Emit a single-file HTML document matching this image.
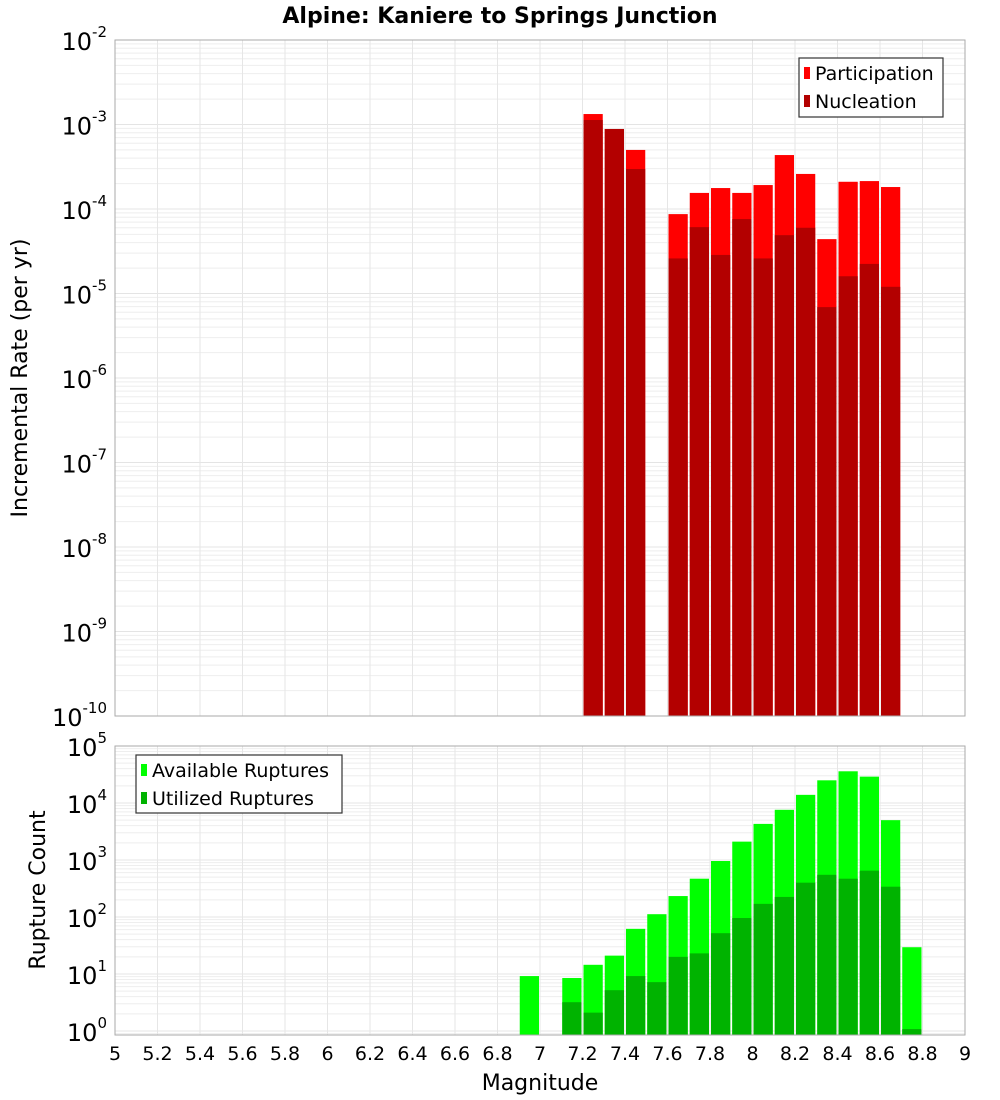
<!DOCTYPE html>
<html><head><meta charset="utf-8">
<style>
html,body{margin:0;padding:0;background:#fff;}
svg{display:block;font-family:"DejaVu Sans","Liberation Sans",sans-serif;}
</style></head>
<body>
<svg id="chart" width="1000" height="1100" viewBox="0 0 1000 1100" xmlns="http://www.w3.org/2000/svg">
<text x="500" y="23" text-anchor="middle" font-size="22" font-weight="bold">Alpine: Kaniere to Springs Junction</text>
<g id="topPanel"></g>
<g id="botPanel"></g>
<text transform="translate(27,378) rotate(-90)" text-anchor="middle" font-size="22">Incremental Rate (per yr)</text>
<text transform="translate(45,890) rotate(-90)" text-anchor="middle" font-size="22">Rupture Count</text>
<text x="540" y="1090" text-anchor="middle" font-size="22">Magnitude</text>
</svg>
<script>
const magBins = [6.95,7.15,7.25,7.35,7.45,7.55,7.65,7.75,7.85,7.95,8.05,8.15,8.25,8.35,8.45,8.55,8.65,8.75];
const participation = [0,0,1.33e-3,8.85e-4,5.0e-4,0,8.7e-5,1.55e-4,1.77e-4,1.55e-4,1.92e-4,4.35e-4,2.6e-4,4.4e-5,2.1e-4,2.14e-4,1.82e-4,0];
const nucleation = [0,0,1.13e-3,8.85e-4,2.97e-4,0,2.6e-5,6.1e-5,2.86e-5,7.6e-5,2.6e-5,4.9e-5,6.0e-5,6.9e-6,1.6e-5,2.24e-5,1.2e-5,0];
const available = [9.2,8.5,14.5,21,62,112,233,470,960,2100,4300,7600,13900,25000,36000,29000,5000,29.5];
const utilized = [0,3.2,2.1,5.2,9.2,7.2,20,23,52,96,170,225,400,550,470,650,340,1.08];
const xTicks = [5,5.2,5.4,5.6,5.8,6,6.2,6.4,6.6,6.8,7,7.2,7.4,7.6,7.8,8,8.2,8.4,8.6,8.8,9];
const topExps = [-2,-3,-4,-5,-6,-7,-8,-9,-10];
const botExps = [5,4,3,2,1,0];

const NS="http://www.w3.org/2000/svg";
const X0=115,X1=965;
function xs(m){return X0+(m-5)/4*(X1-X0);}
const T0=40,T1=716;
function yt(v){return T0+(-2-Math.log10(v))*84.5;}
const B0=746,B1=1035;
function yb(v){return Math.min(B1,B0+(5-Math.log10(v))*57);}
function mk(tag,attrs,parent,txt){const e=document.createElementNS(NS,tag);for(const k in attrs)e.setAttribute(k,attrs[k]);if(txt!==undefined)e.textContent=txt;parent.appendChild(e);return e;}

function panel(g,yTop,yBot,yf,exps,lo,hi){
  for(let d=lo;d<hi;d++){for(let k=1;k<10;k++){const v=k*Math.pow(10,d);const y=yf(v);if(y<yTop||y>yBot)continue;
    const l=mk('line',{x1:X0,x2:X1,y1:y,y2:y,stroke:k==1?'#e4e4e4':'#eeeeee','stroke-width':1},g);
    
    }}
  for(const t of xTicks){const x=xs(t);
    const l=mk('line',{x1:x,x2:x,y1:yTop,y2:yBot,stroke:'#e6e6e6','stroke-width':1},g);
    
    }
  for(const e of exps){const y=yf(Math.pow(10,e));
    const t=mk('text',{x:107,y:y+10,'text-anchor':'end','font-size':24},g);
    
    
    mk('tspan',{},t,'10');
    mk('tspan',{dy:-13,'font-size':15},t,String(e));}
}
const gTop=document.getElementById('topPanel'),gBot=document.getElementById('botPanel');
panel(gTop,T0,T1,yt,topExps,-10,-2);
panel(gBot,B0,B1,yb,botExps,-1,5);

magBins.forEach((m,i)=>{
  const xl=xs(m-0.05)+1,w=xs(m+0.05)-xs(m-0.05)-2;
  if(participation[i]>0){const y=yt(participation[i]);
    const r=mk('rect',{x:xl,y:y,width:w,height:T1-y,fill:'#ff0000'},gTop);
    
    }
  if(nucleation[i]>0){const y=yt(nucleation[i]);
    const r=mk('rect',{x:xl,y:y,width:w,height:T1-y,fill:'#b30000'},gTop);
    
    }
  if(available[i]>0){const y=yb(available[i]);
    const r=mk('rect',{x:xl,y:y,width:w,height:B1-y,fill:'#00ff00'},gBot);
    
    }
  if(utilized[i]>0){const y=yb(utilized[i]);
    const r=mk('rect',{x:xl,y:y,width:w,height:B1-y,fill:'#00b300'},gBot);
    
    }
});
let fr=mk('rect',{x:X0,y:T0,width:X1-X0,height:T1-T0,fill:'none',stroke:'#aaa'},gTop);


fr=mk('rect',{x:X0,y:B0,width:X1-X0,height:B1-B0,fill:'none',stroke:'#aaa'},gBot);


for(const t of xTicks){
  const tx=mk('text',{x:xs(t),y:1060,'text-anchor':'middle','font-size':19},gBot,String(t));
  
  }
function legend(g,x,y,w,h,items,name){
  const lg=mk('g',{},g);
  
  
  mk('rect',{x:x,y:y,width:w,height:h,fill:'#fff',stroke:'#333','stroke-width':1.2},lg);
  items.forEach((it,i)=>{const cy=y+15+i*28;
    const s=mk('rect',{x:x+5,y:cy-6,width:6,height:12,fill:it[1]},lg);
    
    
    const t=mk('text',{x:x+16,y:cy+7,'font-size':19},lg,it[0]);
    
    });
}
legend(gTop,799,58,144,59,[['Participation','#ff0000'],['Nucleation','#b30000']],'top-legend');
legend(gBot,136,755,206,58,[['Available Ruptures','#00ff00'],['Utilized Ruptures','#00b300']],'bottom-legend');
</script>
</body></html>
